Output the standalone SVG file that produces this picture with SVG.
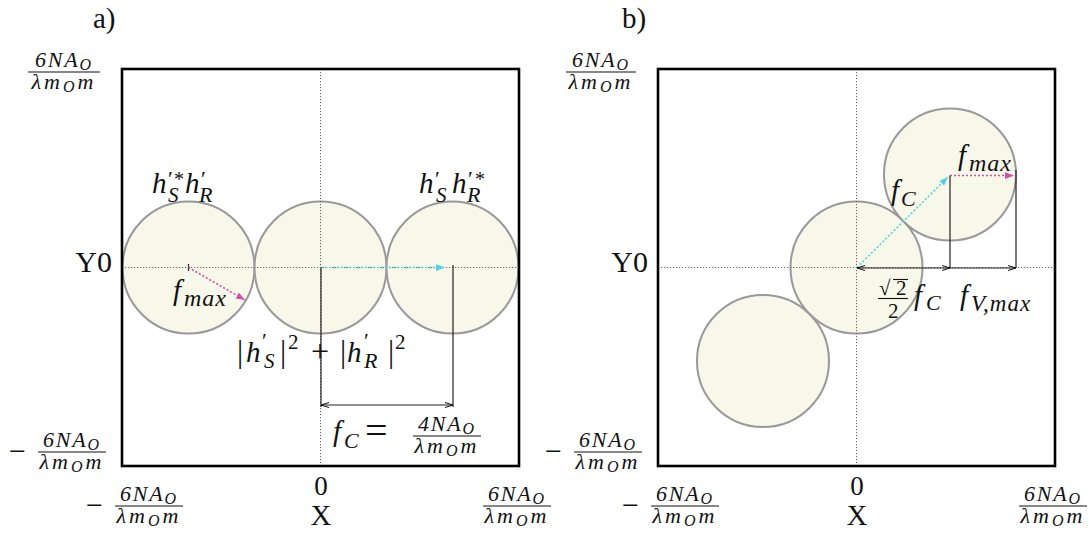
<svg xmlns="http://www.w3.org/2000/svg" width="1089" height="536" viewBox="0 0 1089 536">
<style>
.t{font-family:"Liberation Serif","DejaVu Serif",serif;fill:#111}
.i{font-style:italic}
.fn{font-family:"Liberation Serif","DejaVu Serif",serif;font-style:italic;font-size:22px;letter-spacing:1.8px;fill:#111}
.fd{letter-spacing:3px}
.fs{font-size:16px}
.bar{stroke:#111;stroke-width:1.1}
.circ{fill:#f7f7ea;stroke:#999;stroke-width:2}
.box{fill:none;stroke:#000;stroke-width:2.6}
.ax{stroke:#666;stroke-width:1;stroke-dasharray:1.2 1.8;fill:none}
.blk{stroke:#222;stroke-width:1.2;fill:none}
.cy{stroke:#4fd3e0;stroke-width:1.6;stroke-dasharray:2 2;fill:none}
.mg{stroke:#d44fa8;stroke-width:1.6;stroke-dasharray:2 2;fill:none}
</style>
<defs>
<marker id="ab" viewBox="0 0 8 6" refX="8" refY="3" markerWidth="8" markerHeight="6" markerUnits="userSpaceOnUse" orient="auto-start-reverse"><path d="M0,0.5 L8,3 L0,5.5" fill="none" stroke="#111" stroke-width="1"/></marker>
<marker id="ac" viewBox="0 0 8 6" refX="8" refY="3" markerWidth="9" markerHeight="7" markerUnits="userSpaceOnUse" orient="auto"><path d="M0,0 L8,3 L0,6 z" fill="#4fd3e0"/></marker>
<marker id="am" viewBox="0 0 8 6" refX="8" refY="3" markerWidth="9" markerHeight="7" markerUnits="userSpaceOnUse" orient="auto"><path d="M0,0 L8,3 L0,6 z" fill="#d44fa8"/></marker>
</defs>
<rect x="0" y="0" width="1089" height="536" fill="#fff"/>

<!-- Panel a -->
<g id="panel-a-frame"><rect x="122" y="69" width="397" height="397" fill="#fff"/></g>
<g id="circle-a-left"><circle class="circ" cx="188.5" cy="267.5" r="66"/></g>
<g id="circle-a-mid"><circle class="circ" cx="320.5" cy="267.5" r="66"/></g>
<g id="circle-a-right"><circle class="circ" cx="452.5" cy="267.5" r="66"/></g>

<!-- Panel b -->
<g id="panel-b-frame"><rect x="658" y="69" width="397" height="397" fill="#fff"/></g>
<g id="circle-b-mid"><circle class="circ" cx="856.5" cy="267.5" r="66"/></g>
<g id="circle-b-up"><circle class="circ" cx="950" cy="174.5" r="66"/></g>
<g id="circle-b-low"><circle class="circ" cx="763" cy="361" r="66"/></g>

<g id="connectors">
<line class="ax" x1="122" y1="267.5" x2="519" y2="267.5"/>
<line class="ax" x1="320.5" y1="69" x2="320.5" y2="466"/>
<line class="ax" x1="658" y1="267.5" x2="1055" y2="267.5"/>
<line class="ax" x1="856.5" y1="69" x2="856.5" y2="466"/>
<line class="blk" x1="188.5" y1="264" x2="188.5" y2="271"/>
<line class="mg" x1="188.5" y1="267.5" x2="245" y2="300" marker-end="url(#am)"/>
<line class="cy" x1="321" y1="267.5" x2="445" y2="267.5" marker-end="url(#ac)"/>
<line class="blk" x1="321" y1="267.5" x2="321" y2="407"/>
<line class="blk" x1="453" y1="265" x2="453" y2="407"/>
<line class="blk" x1="321" y1="405" x2="453" y2="405" marker-start="url(#ab)" marker-end="url(#ab)"/>
<line class="cy" x1="857" y1="267.5" x2="948" y2="177" marker-end="url(#ac)"/>
<line class="mg" x1="950" y1="175.5" x2="1014" y2="175.5" marker-end="url(#am)"/>
<line class="blk" x1="950" y1="175.5" x2="950" y2="268"/>
<line class="blk" x1="1016" y1="170" x2="1016" y2="268"/>
<line class="blk" x1="857" y1="268" x2="950" y2="268" marker-start="url(#ab)" marker-end="url(#ab)"/>
<line class="blk" x1="950" y1="268" x2="1016" y2="268" marker-end="url(#ab)"/>
</g>

<rect class="box" x="122" y="69" width="397" height="397"/>
<rect class="box" x="658" y="69" width="397" height="397"/>

<g id="labels-a">
<text class="t" x="93" y="28" font-size="29">a)</text>
<text class="t" x="112" y="272" font-size="30" text-anchor="end">Y0</text>
<text class="t" x="321" y="495" font-size="27" text-anchor="middle">0</text>
<text class="t" x="321" y="525" font-size="29" text-anchor="middle">X</text>
<g transform="translate(64,72)"><text class="fn" x="0" y="-5" text-anchor="middle">6NA<tspan class="fs" dy="3">O</tspan></text><line class="bar" x1="-36" y1="0" x2="36" y2="0"/><text class="fn fd" x="0" y="17" text-anchor="middle">λm<tspan class="fs" dy="3">O</tspan><tspan dy="-3">m</tspan></text></g>
<text class="t" x="9" y="461" font-size="30">−</text>
<g transform="translate(72,452)"><text class="fn" x="0" y="-5" text-anchor="middle">6NA<tspan class="fs" dy="3">O</tspan></text><line class="bar" x1="-34" y1="0" x2="34" y2="0"/><text class="fn fd" x="0" y="17" text-anchor="middle">λm<tspan class="fs" dy="3">O</tspan><tspan dy="-3">m</tspan></text></g>
<text class="t" x="86" y="515" font-size="30">−</text>
<g transform="translate(149,506)"><text class="fn" x="0" y="-5" text-anchor="middle">6NA<tspan class="fs" dy="3">O</tspan></text><line class="bar" x1="-34" y1="0" x2="34" y2="0"/><text class="fn fd" x="0" y="17" text-anchor="middle">λm<tspan class="fs" dy="3">O</tspan><tspan dy="-3">m</tspan></text></g>
<g transform="translate(517,506)"><text class="fn" x="0" y="-5" text-anchor="middle">6NA<tspan class="fs" dy="3">O</tspan></text><line class="bar" x1="-34" y1="0" x2="34" y2="0"/><text class="fn fd" x="0" y="17" text-anchor="middle">λm<tspan class="fs" dy="3">O</tspan><tspan dy="-3">m</tspan></text></g>
<text class="t i" font-size="29"><tspan x="152" y="193">h</tspan><tspan x="168" y="186" font-size="22" font-style="normal">′</tspan><tspan x="174" y="186" font-size="20" font-style="normal">*</tspan><tspan x="168" y="202" font-size="21">S</tspan><tspan x="185" y="193">h</tspan><tspan x="201" y="186" font-size="22" font-style="normal">′</tspan><tspan x="199" y="202" font-size="22">R</tspan></text>
<text class="t i" font-size="29"><tspan x="419" y="193">h</tspan><tspan x="435" y="186" font-size="22" font-style="normal">′</tspan><tspan x="436" y="202" font-size="21">S</tspan><tspan x="452" y="193">h</tspan><tspan x="468" y="186" font-size="22" font-style="normal">′</tspan><tspan x="475" y="186" font-size="20" font-style="normal">*</tspan><tspan x="467" y="202" font-size="22">R</tspan></text>
<text class="t i" font-size="29"><tspan x="173" y="300">f</tspan><tspan x="184" y="306" font-size="24" letter-spacing="1">max</tspan></text>
<text class="t" font-size="31"><tspan x="237" y="362">|</tspan><tspan x="246" class="i" font-size="29">h</tspan><tspan x="262" y="348" font-size="22">′</tspan><tspan x="264" y="368" font-size="21" class="i">S</tspan><tspan x="280" y="362">|</tspan><tspan x="288" y="349" font-size="21">2</tspan><tspan x="311" y="362" font-size="32">+</tspan><tspan x="340" y="362">|</tspan><tspan x="347" class="i" font-size="29">h</tspan><tspan x="364" y="348" font-size="22">′</tspan><tspan x="364" y="368" font-size="22" class="i">R</tspan><tspan x="388" y="362">|</tspan><tspan x="395" y="349" font-size="21">2</tspan></text>
<text class="t i" font-size="29"><tspan x="333" y="441">f</tspan><tspan x="344" y="448" font-size="22">C</tspan><tspan x="365" y="444" font-size="40" font-style="normal">=</tspan></text>
<g transform="translate(447,436)"><text class="fn" x="0" y="-5" text-anchor="middle">4NA<tspan class="fs" dy="3">O</tspan></text><line class="bar" x1="-34" y1="0" x2="34" y2="0"/><text class="fn fd" x="0" y="17" text-anchor="middle">λm<tspan class="fs" dy="3">O</tspan><tspan dy="-3">m</tspan></text></g>
</g>

<g id="labels-b">
<text class="t" x="622" y="28" font-size="29">b)</text>
<text class="t" x="648" y="272" font-size="30" text-anchor="end">Y0</text>
<text class="t" x="857" y="495" font-size="27" text-anchor="middle">0</text>
<text class="t" x="857" y="525" font-size="29" text-anchor="middle">X</text>
<g transform="translate(601,72)"><text class="fn" x="0" y="-5" text-anchor="middle">6NA<tspan class="fs" dy="3">O</tspan></text><line class="bar" x1="-35" y1="0" x2="35" y2="0"/><text class="fn fd" x="0" y="17" text-anchor="middle">λm<tspan class="fs" dy="3">O</tspan><tspan dy="-3">m</tspan></text></g>
<text class="t" x="545" y="461" font-size="30">−</text>
<g transform="translate(608,452)"><text class="fn" x="0" y="-5" text-anchor="middle">6NA<tspan class="fs" dy="3">O</tspan></text><line class="bar" x1="-34" y1="0" x2="34" y2="0"/><text class="fn fd" x="0" y="17" text-anchor="middle">λm<tspan class="fs" dy="3">O</tspan><tspan dy="-3">m</tspan></text></g>
<text class="t" x="622" y="515" font-size="30">−</text>
<g transform="translate(685,506)"><text class="fn" x="0" y="-5" text-anchor="middle">6NA<tspan class="fs" dy="3">O</tspan></text><line class="bar" x1="-34" y1="0" x2="34" y2="0"/><text class="fn fd" x="0" y="17" text-anchor="middle">λm<tspan class="fs" dy="3">O</tspan><tspan dy="-3">m</tspan></text></g>
<g transform="translate(1053,506)"><text class="fn" x="0" y="-5" text-anchor="middle">6NA<tspan class="fs" dy="3">O</tspan></text><line class="bar" x1="-34" y1="0" x2="34" y2="0"/><text class="fn fd" x="0" y="17" text-anchor="middle">λm<tspan class="fs" dy="3">O</tspan><tspan dy="-3">m</tspan></text></g>
<text class="t i" font-size="29"><tspan x="958" y="165">f</tspan><tspan x="969" y="171" font-size="24" letter-spacing="1">max</tspan></text>
<text class="t i" font-size="29"><tspan x="891" y="200">f</tspan><tspan x="901" y="206" font-size="22">C</tspan></text>
<text class="t" font-size="21"><tspan x="879" y="295">√</tspan><tspan x="896" y="295">2</tspan></text>
<line class="bar" x1="893" y1="279.5" x2="908" y2="279.5"/>
<line class="bar" x1="878" y1="298.5" x2="908" y2="298.5"/>
<text class="t" x="888" y="318" font-size="21">2</text>
<text class="t i" font-size="29"><tspan x="914" y="305">f</tspan><tspan x="926" y="310" font-size="22">C</tspan></text>
<text class="t i" font-size="29"><tspan x="960" y="305">f</tspan><tspan x="971" y="311" font-size="23" letter-spacing="1">V,max</tspan></text>
</g>
</svg>
